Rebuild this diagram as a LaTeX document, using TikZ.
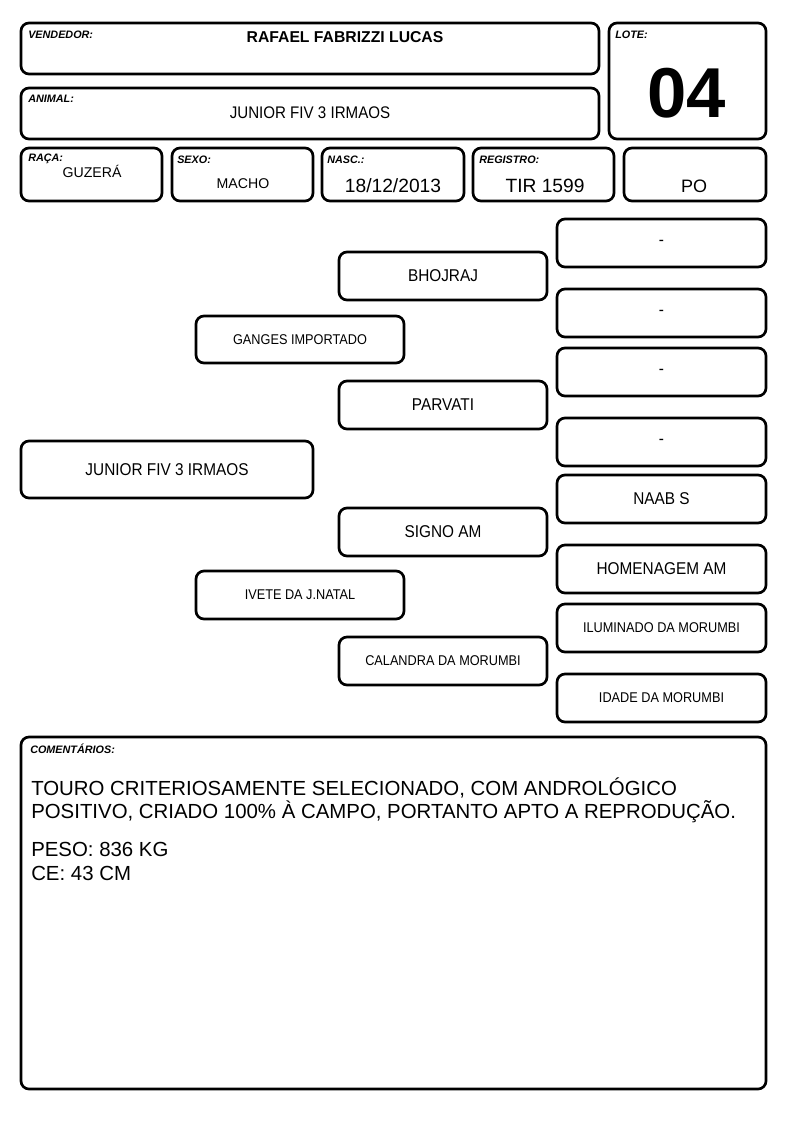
\documentclass[tikz,border=0pt]{standalone}
\usepackage{fontspec}
\setmainfont{Liberation Sans}
\newfontfamily\narrowfont[FakeStretch=0.9]{Liberation Sans}
\newcommand\bx[7][]{\node[box,#1,minimum width={(#5-#3)*0.75pt},minimum height={(#6-#4)*0.75pt}] (#2) at ({(#3+#5)/2},{(#4+#6)/2}) {#7};}
\begin{document}
\begin{tikzpicture}[x=0.75pt,y=-0.75pt,
  box/.style={draw,line width=2pt,rounded corners=6pt,inner sep=0pt,align=center},
  lbl/.style={font=\bfseries\itshape\fontsize{8.1}{9}\selectfont,anchor=base west,inner sep=0pt},
  val/.style={anchor=base,inner sep=0pt},
  big/.style={font=\narrowfont\fontsize{12.8}{15}\selectfont},
  small/.style={font=\narrowfont\fontsize{10.6}{12}\selectfont},
  com/.style={anchor=base west,inner sep=0pt,font=\fontsize{15.3}{17}\selectfont}]
\useasboundingbox (0,0) rectangle (794,1123);
% header boxes
\bx{vend}{21}{23}{599}{74}{}
\bx{anim}{21}{88}{599}{139}{}
\bx{lote}{609}{23}{766}{139}{}
\bx{raca}{21}{148}{162}{201}{}
\bx{sexo}{172}{148}{313}{201}{}
\bx{nasc}{322}{148}{464}{201}{}
\bx{reg}{473}{148}{614}{201}{}
\bx{po}{624}{148}{766}{201}{}
% header labels
\node[lbl] (lvend) at (28,39) {VENDEDOR:};
\node[lbl] (lanim) at (28,103) {ANIMAL:};
\node[lbl] (llote) at (615,39) {LOTE:};
\node[lbl] (lraca) at (28,162) {RAÇA:};
\node[lbl] (lsexo) at (177,164) {SEXO:};
\node[lbl] (lnasc) at (327,164) {NASC.:};
\node[lbl] (lreg) at (479,164) {REGISTRO:};
% header values
\node[val,font=\bfseries\fontsize{11.8}{14}\selectfont] (tvend) at (345,43) {RAFAEL FABRIZZI LUCAS};
\node[val,font=\narrowfont\fontsize{12.6}{14}\selectfont] (tanim) at (310,119) {JUNIOR FIV 3 IRMAOS};
\node[val,font=\bfseries\fontsize{53}{60}\selectfont] (tlote) at (687,118) {04};
\node[val,font=\fontsize{10.6}{12}\selectfont] (traca) at (92,178) {GUZERÁ};
\node[val,font=\fontsize{10.6}{12}\selectfont] (tsexo) at (243,189) {MACHO};
\node[val,font=\fontsize{14.4}{16}\selectfont] (tnasc) at (393,193) {18/12/2013};
\node[val,font=\fontsize{14.4}{16}\selectfont] (treg) at (545,193) {TIR 1599};
\node[val,font=\fontsize{13.5}{16}\selectfont] (tpo) at (694,193) {PO};
% pedigree
\bx[big]{p0}{21}{441}{313}{498}{JUNIOR FIV 3 IRMAOS}
\bx[small]{p1}{196}{316}{404}{363}{GANGES IMPORTADO}
\bx[small]{p2}{196}{571}{404}{619}{IVETE DA J.NATAL}
\bx[big]{p11}{339}{252}{547}{300}{BHOJRAJ}
\bx[big]{p12}{339}{381}{547}{429}{PARVATI}
\bx[big]{p21}{339}{508}{547}{556}{SIGNO AM}
\bx[small]{p22}{339}{637}{547}{685}{CALANDRA DA MORUMBI}
\bx[big]{p111}{557}{219}{766}{267}{-}
\bx[big]{p112}{557}{289}{766}{337}{-}
\bx[big]{p121}{557}{348}{766}{396}{-}
\bx[big]{p122}{557}{418}{766}{466}{-}
\bx[big]{p211}{557}{475}{766}{523}{NAAB S}
\bx[big]{p212}{557}{545}{766}{593}{HOMENAGEM AM}
\bx[small]{p221}{557}{604}{766}{652}{ILUMINADO DA MORUMBI}
\bx[small]{p222}{557}{674}{766}{722}{IDADE DA MORUMBI}
% comments
\bx{coment}{21}{737}{766}{1089}{}
\node[lbl] (lcom) at (30,753) {COMENTÁRIOS:};
\node[com] (c1) at (31,795) {TOURO CRITERIOSAMENTE SELECIONADO, COM ANDROLÓGICO};
\node[com] (c2) at (31,818) {POSITIVO, CRIADO 100\% À CAMPO, PORTANTO APTO A REPRODUÇÃO.};
\node[com] (c3) at (31,856) {PESO: 836 KG};
\node[com] (c4) at (31,880) {CE: 43 CM};
\end{tikzpicture}
\end{document}
